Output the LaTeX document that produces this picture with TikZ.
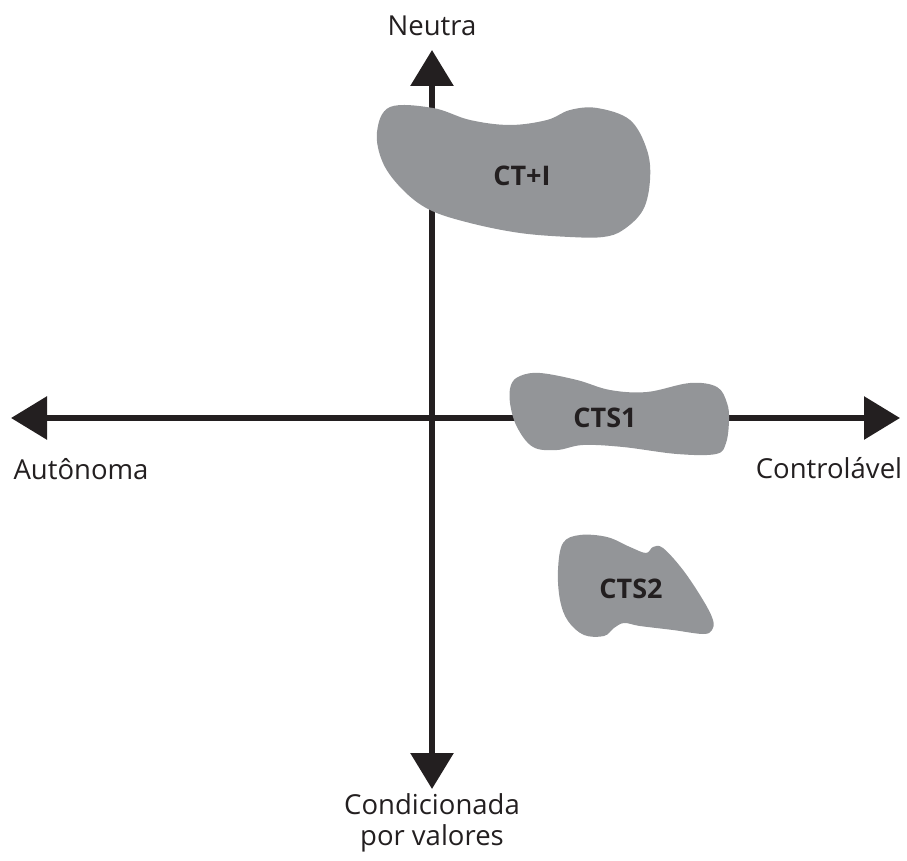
\documentclass[tikz,border=0pt]{standalone}
\usepackage{fontspec}
\setmainfont{Open Sans}
\usetikzlibrary{arrows.meta}
\definecolor{blobgray}{RGB}{147,149,152}
\definecolor{ink}{RGB}{35,31,32}
\tikzset{
  axis/.style={draw=ink, line width=6pt, -{Triangle[width=42pt,length=36pt]}},
  blob/.style={fill=blobgray, draw=none},
  axlabel/.style={text=ink, font=\fontsize{27.5}{31}\selectfont, inner sep=0pt, align=center},
  bloblabel/.style={text=ink, font=\fontsize{27}{30}\selectfont\bfseries, inner sep=0pt}
}
\begin{document}
\begin{tikzpicture}[x=1pt,y=-1pt]
\useasboundingbox (0,0) rectangle (907,861);
% axis end points
\coordinate (O) at (432,418);
\coordinate (Ltip) at (11,418);
\coordinate (Rtip) at (900,418);
\coordinate (Ttip) at (432,50);
\coordinate (Btip) at (432,789);
\draw[axis] (O) -- (Ltip);
\draw[axis] (O) -- (Rtip);
\draw[axis] (O) -- (Ttip);
\draw[axis] (O) -- (Btip);
% blobs
\fill[blob] plot[smooth cycle, tension=0.6] coordinates {
 (377,132) (390,107) (433,108) (470,120) (510,125) (547,120) (570,110) (597,108)
 (630,120) (647,150) (650,180) (643,210) (623,230) (603,237) (570,237) (520,233)
 (470,223) (430,210) (403,190) (383,163)};
\fill[blob] plot[smooth cycle, tension=0.6] coordinates {
 (511,385) (520,376) (540,373) (577,380) (610,390) (647,392) (690,383) (717,387)
 (727,403) (729,420) (726,443) (716,454) (677,454) (623,447) (583,445) (557,450)
 (533,447) (517,427) (510,403)};
\fill[blob] plot[smooth cycle, tension=0.6] coordinates {
 (563,543) (580,535) (607,537) (630,547) (646,553) (653,547) (663,548) (683,570)
 (703,600) (713,620) (712,630) (703,634) (673,630) (640,626) (624,623) (614,628)
 (604,636) (584,635) (568,621) (560,600) (558,570)};
% labels
\node[bloblabel] (cti) at (522,176) {CT+I};
\node[bloblabel] (cts1) at (605,418) {CTS1};
\node[bloblabel] (cts2) at (631,589) {CTS2};
\node[axlabel] (neutra) at (432,26) {Neutra};
\node[axlabel] (auto) at (81,469) {Autônoma};
\node[axlabel] (contr) at (829,468) {Controlável};
\node[axlabel] (cond) at (432,823) {Condicionada\\por valores};
\end{tikzpicture}
\end{document}
